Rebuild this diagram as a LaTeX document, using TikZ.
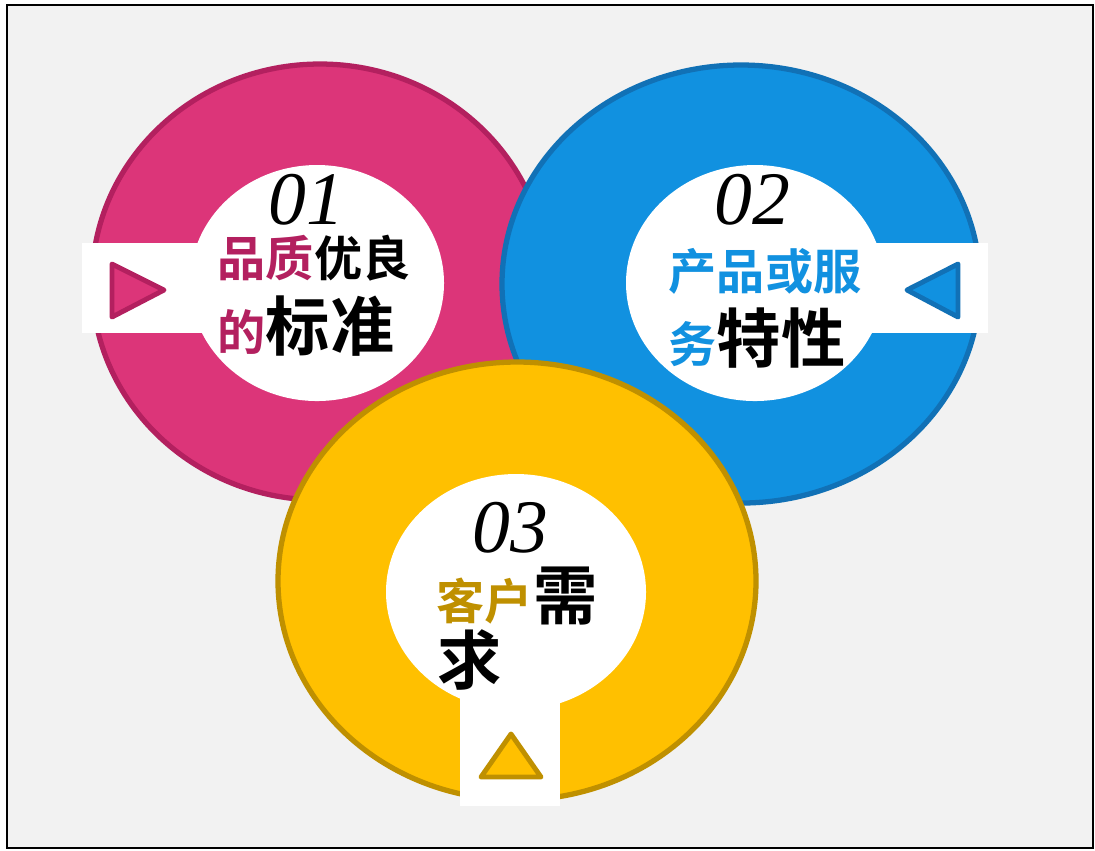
\documentclass[tikz,border=0pt]{standalone}
\usepackage{fontspec}
\setmainfont{Liberation Serif}
\newfontfamily\cjk{Noto Sans CJK SC}[BoldFont={* Bold}]
\definecolor{bgray}{HTML}{F2F2F2}
\definecolor{pinkf}{HTML}{DC3579}
\definecolor{pinkd}{HTML}{B3205F}
\definecolor{bluef}{HTML}{1191E0}
\definecolor{blued}{HTML}{1171B6}
\definecolor{yelf}{HTML}{FFC000}
\definecolor{yeld}{HTML}{BF9000}
\newcommand{\smallcjk}{\fontsize{13.7}{16}\selectfont}
\newcommand{\bigcjk}{\fontsize{18.3}{21}\selectfont}
\begin{document}
\begin{tikzpicture}[x=0.01cm, y=-0.01cm,
	ring/.style={line width=1.5pt},
	tab/.style={fill=white, draw=none},
	marker/.style={line width=1.4pt, line join=round},
	num/.style={font=\fontsize{21.5}{24}\selectfont\itshape, inner sep=0pt, anchor=base},
	txt/.style={font=\cjk\bfseries, inner sep=0pt, anchor=base west}]
	\useasboundingbox (0,0) rectangle (1095,850);
	\draw[fill=bgray, line width=0.6pt] (7,5) rectangle (1093,848);
	% pink ring
	\draw[ring, fill=pinkf, draw=pinkd] (320,282) ellipse [x radius=228, y radius=218];
	\fill[white] (317,283) ellipse [x radius=127, y radius=118];
	\draw[tab] (82,243) rectangle (210,333);
	\draw[marker, fill=pinkf, draw=pinkd] (112,264) -- (112,317) -- (164,290) -- cycle;
	% blue ring
	\draw[ring, fill=bluef, draw=blued] (741,284) ellipse [x radius=239, y radius=219];
	\fill[white] (755,283) ellipse [x radius=129, y radius=118];
	\draw[tab] (866,243) rectangle (988,333);
	\draw[marker, fill=bluef, draw=blued] (958,264) -- (958,317) -- (907,290) -- cycle;
	% yellow ring
	\draw[ring, fill=yelf, draw=yeld] (517,581) ellipse [x radius=239, y radius=219];
	\fill[white] (516,592) ellipse [x radius=130, y radius=118];
	\draw[tab] (460,690) rectangle (560,806);
	\draw[marker, fill=yelf, draw=yeld] (511,734) -- (541,777) -- (481,777) -- cycle;
	% labels
	\node[num] (num1) at (306,224) {01};
	\node[num] (num2) at (752,224) {02};
	\node[num] (num3) at (510,552) {03};
	\node[txt] (lab1a) at (217,276) {\smallcjk\textcolor{pinkd}{品质}优良};
	\node[txt] (lab1b) at (217,350) {\smallcjk\textcolor{pinkd}{的}\bigcjk 标准};
	\node[txt] (lab2a) at (668,289) {\smallcjk\textcolor{bluef}{产品或服}};
	\node[txt] (lab2b) at (668,362) {\smallcjk\textcolor{bluef}{务}\bigcjk 特性};
	\node[txt] (lab3a) at (436,619) {\smallcjk\textcolor{yeld}{客户}\bigcjk 需};
	\node[txt] (lab3b) at (437,684) {\bigcjk 求};
\end{tikzpicture}
\end{document}
